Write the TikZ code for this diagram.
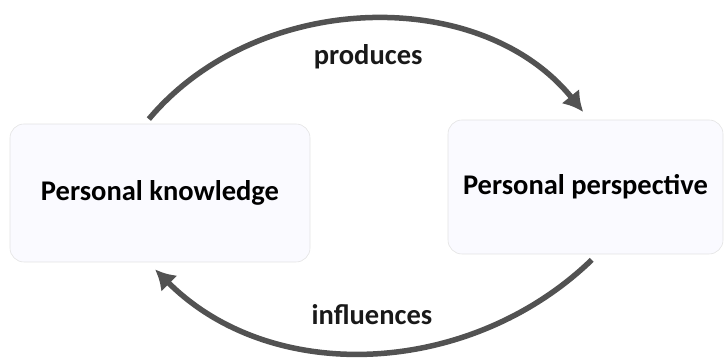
\documentclass[tikz,border=0pt]{standalone}
\usepackage{fontspec}
\setmainfont{Carlito}
\usetikzlibrary{arrows.meta}
\tikzstyle{box} = [draw=black!11, fill=blue!2, rounded corners=14pt, line width=0.6pt, font=\fontsize{28.5}{32}\selectfont\bfseries]
\tikzstyle{arrow} = [-{Latex[length=20pt,width=23pt]}, line width=5.5pt, draw=black!68]
\tikzstyle{word} = [font=\fontsize{28.5}{32}\selectfont\bfseries, text=black!90]

\begin{document}
\begin{tikzpicture}[x=1pt,y=1pt]
\useasboundingbox (0,0) rectangle (725,363);
\node[box, minimum width=300pt, minimum height=138pt] (know) at (160,170) {Personal knowledge};
\node[box, minimum width=275pt, minimum height=134pt] (persp) at (585.5,176) {Personal perspective};
\draw[arrow, shorten <=6pt, shorten >=10pt] ([xshift=-15pt]know.north) to[out=50,in=129] node[word, midway, yshift=-36pt](prod){produces} ([xshift=4pt]persp.north);
\draw[arrow, shorten <=8pt, shorten >=10pt] ([xshift=12pt]persp.south) to[out=-136,in=-45] node[word, midway, yshift=36pt](infl){influences} ([xshift=-12pt]know.south);
\end{tikzpicture}
\end{document}
